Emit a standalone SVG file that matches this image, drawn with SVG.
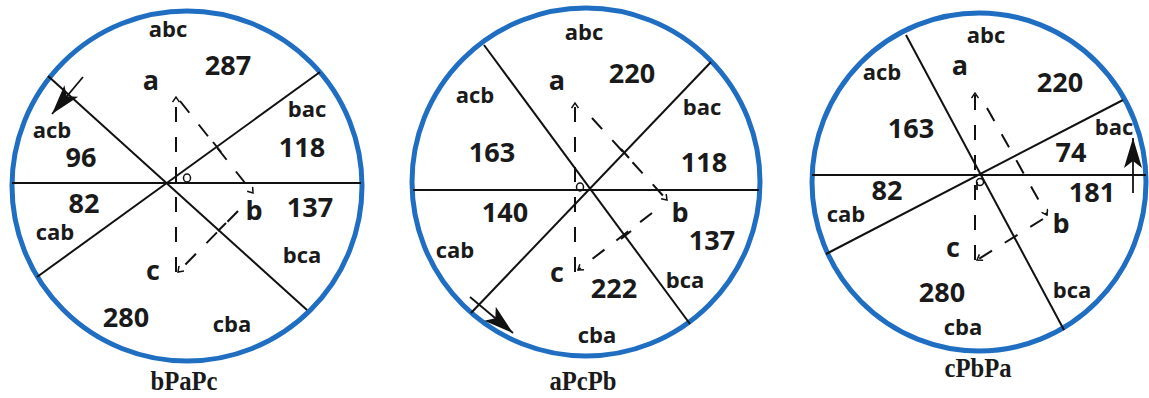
<svg xmlns="http://www.w3.org/2000/svg" width="1149" height="398" viewBox="0 0 1149 398">
<style>
.ring{fill:none;stroke:#1f6ec2;stroke-width:5}
.sl{stroke:#111;stroke-width:2;fill:none}
.dl{stroke:#111;stroke-width:2;fill:none;stroke-dasharray:15,15}
.tk{stroke:#111;stroke-width:2}
.ax{stroke:#111;stroke-width:1.8;fill:none}
.dot{fill:none;stroke:#111;stroke-width:1.5}
.p{font-family:"Open Sans","Liberation Sans",sans-serif;font-weight:700;font-size:22px;fill:#1a1a1a;text-anchor:middle}
.n{font-family:"Open Sans","Liberation Sans",sans-serif;font-weight:700;font-size:27px;fill:#1a1a1a;text-anchor:middle}
.v{font-family:"Open Sans","Liberation Sans",sans-serif;font-weight:700;font-size:27px;fill:#1a1a1a;text-anchor:middle}
.cap{font-family:"Liberation Serif","Times New Roman",serif;font-weight:700;font-size:28px;fill:#1a1a1a;text-anchor:middle}
</style>
<defs>
<marker id="sm" markerUnits="userSpaceOnUse" markerWidth="8" markerHeight="8" refX="6" refY="4" orient="auto">
<path d="M1,0.5 L6,4 L1,7.5" fill="none" stroke="#111" stroke-width="1.5"/>
</marker>
<marker id="big" markerUnits="userSpaceOnUse" markerWidth="32" markerHeight="20" refX="30" refY="10" orient="auto">
<path d="M0,1 L30,10 L0,19 L7,10 Z" fill="#111"/>
</marker>
</defs>
<rect width="1149" height="398" fill="#fff"/>

<g id="node-bPaPc">
<circle class="ring" cx="187" cy="186" r="175"/>
<line class="sl" x1="12" y1="183" x2="361" y2="183"/>
<line class="sl" x1="48" y1="76" x2="307" y2="310"/>
<line class="sl" x1="320" y1="72" x2="37" y2="277"/>
<ellipse class="dot" cx="187" cy="178" rx="3.5" ry="4"/>
<text class="p" x="168" y="37">abc</text>
<text class="n" x="228" y="75">287</text>
<text class="v" x="151" y="90">a</text>
<text class="p" x="307" y="117">bac</text>
<text class="n" x="302" y="157">118</text>
<text class="p" x="52" y="138">acb</text>
<text class="n" x="81" y="167">96</text>
<text class="n" x="84" y="213">82</text>
<text class="p" x="55" y="240">cab</text>
<text class="v" x="254" y="220">b</text>
<text class="n" x="310" y="217">137</text>
<text class="p" x="302" y="263">bca</text>
<text class="v" x="153" y="280">c</text>
<text class="n" x="126" y="327">280</text>
<text class="p" x="232" y="332">cba</text>
<text class="cap" transform="translate(184,390) scale(0.88,1)">bPaPc</text>
</g>

<g id="node-aPcPb">
<circle class="ring" cx="586" cy="182" r="174"/>
<line class="sl" x1="413" y1="190" x2="759" y2="190"/>
<line class="sl" x1="484" y1="45" x2="690" y2="324"/>
<line class="sl" x1="711" y1="62" x2="471" y2="313"/>
<ellipse class="dot" cx="580" cy="187" rx="3.5" ry="4"/>
<text class="p" x="584" y="40">abc</text>
<text class="v" x="557" y="90">a</text>
<text class="n" x="632" y="83">220</text>
<text class="p" x="475" y="103">acb</text>
<text class="p" x="702" y="115">bac</text>
<text class="n" x="492" y="162">163</text>
<text class="n" x="704" y="172">118</text>
<text class="n" x="505" y="222">140</text>
<text class="v" x="680" y="222">b</text>
<text class="n" x="712" y="250">137</text>
<text class="p" x="455" y="258">cab</text>
<text class="v" x="557" y="282">c</text>
<text class="n" x="614" y="298">222</text>
<text class="p" x="685" y="288">bca</text>
<text class="p" x="597" y="343">cba</text>
<text class="cap" transform="translate(583,390) scale(0.88,1)">aPcPb</text>
</g>

<g id="node-cPbPa">
<ellipse class="ring" cx="979" cy="182" rx="167" ry="169"/>
<line class="sl" x1="812" y1="175" x2="1146" y2="175"/>
<line class="sl" x1="906" y1="35" x2="1064" y2="330"/>
<line class="sl" x1="1123" y1="100" x2="826" y2="254"/>
<circle class="dot" cx="980" cy="182" r="3.5"/>
<line class="ax" x1="977" y1="182" x2="977" y2="190"/>
<text class="p" x="986" y="43">abc</text>
<text class="p" x="882" y="80">acb</text>
<text class="v" x="960" y="75">a</text>
<text class="n" x="1060" y="92">220</text>
<text class="n" x="911" y="138">163</text>
<text class="p" x="1114" y="135">bac</text>
<text class="n" x="1071" y="162">74</text>
<text class="n" x="887" y="200">82</text>
<text class="n" x="1092" y="202">181</text>
<text class="p" x="846" y="222">cab</text>
<text class="v" x="1061" y="233">b</text>
<text class="v" x="953" y="257">c</text>
<text class="n" x="942" y="302">280</text>
<text class="p" x="1072" y="298">bca</text>
<text class="p" x="963" y="335">cba</text>
<text class="cap" transform="translate(978,377) scale(0.88,1)">cPbPa</text>
</g>

<g id="connectors">
<line class="dl" x1="176" y1="272" x2="176" y2="97" marker-end="url(#sm)"/>
<line class="dl" x1="180" y1="101" x2="253" y2="193" marker-end="url(#sm)"/>
<line class="dl" x1="238" y1="211" x2="178" y2="272" marker-end="url(#sm)"/>
<line class="tk" x1="213" y1="142" x2="221" y2="152"/>
<line class="tk" x1="226" y1="223" x2="218" y2="231"/>
<line class="ax" x1="83" y1="77" x2="52" y2="114" marker-end="url(#big)"/>
<line class="dl" x1="575" y1="272" x2="575" y2="103" marker-end="url(#sm)"/>
<line class="dl" x1="592" y1="118" x2="667" y2="200" marker-end="url(#sm)"/>
<line class="dl" x1="652" y1="213" x2="578" y2="270" marker-end="url(#sm)"/>
<line class="tk" x1="621" y1="149" x2="629" y2="158"/>
<line class="tk" x1="631" y1="231" x2="621" y2="239"/>
<line class="ax" x1="470" y1="297" x2="513" y2="333" marker-end="url(#big)"/>
<line class="dl" x1="975" y1="260" x2="975" y2="93" marker-end="url(#sm)"/>
<line class="dl" x1="987" y1="108" x2="1047" y2="215" marker-end="url(#sm)"/>
<line class="dl" x1="1043" y1="219" x2="977" y2="260" marker-end="url(#sm)"/>
<line class="ax" x1="1133" y1="193" x2="1133" y2="138" marker-end="url(#big)"/>
</g>
</svg>
